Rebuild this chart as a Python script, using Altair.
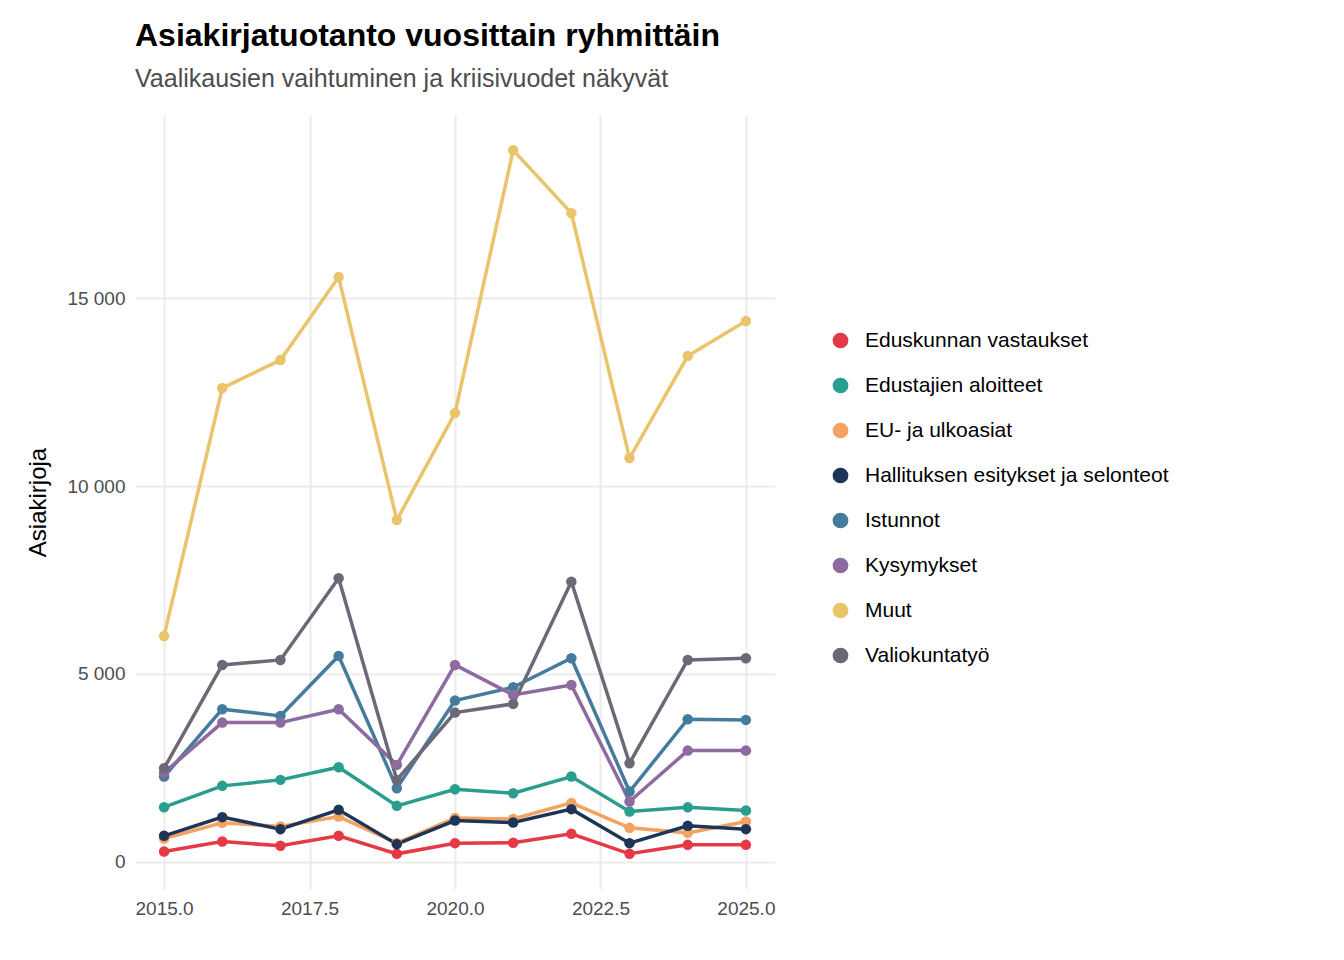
import altair as alt
import pandas as pd

years = list(range(2015, 2026))
series = {
    "Eduskunnan vastaukset": [274, 540, 426, 692, 213, 497, 510, 745, 213, 452, 452],
    "Edustajien aloitteet": [1454, 2022, 2181, 2519, 1490, 1933, 1827, 2269, 1338, 1450, 1365],
    "EU- ja ulkoasiat": [620, 1037, 940, 1205, 500, 1165, 1140, 1569, 904, 771, 1072],
    "Hallituksen esitykset ja selonteot": [692, 1189, 870, 1383, 471, 1099, 1045, 1402, 497, 958, 870],
    "Istunnot": [2269, 4062, 3884, 5480, 1960, 4291, 4647, 5418, 1870, 3796, 3777],
    "Kysymykset": [2375, 3705, 3705, 4062, 2580, 5240, 4442, 4708, 1604, 2960, 2960],
    "Muut": [6012, 12608, 13353, 15561, 9097, 11943, 18939, 17263, 10746, 13460, 14390],
    "Valiokuntatyö": [2492, 5240, 5373, 7546, 2181, 3971, 4203, 7456, 2625, 5373, 5418],
}
colors = ["#E63946", "#2A9D8F", "#F4A261", "#1D3557", "#457B9D", "#8D6A9F", "#E9C46A", "#6D6875"]

rows = []
for name, vals in series.items():
    for y, v in zip(years, vals):
        rows.append({"Vuosi": y, "Ryhmä": name, "Asiakirjoja": v})
df = pd.DataFrame(rows)

chart = alt.Chart(df).mark_line(strokeWidth=3.5, point=alt.OverlayMarkDef(size=110, filled=True, opacity=1)).encode(
    x=alt.X("Vuosi:Q", scale=alt.Scale(domain=[2014.5, 2025.5], nice=False, zero=False),
            axis=alt.Axis(values=[2015, 2017.5, 2020, 2022.5, 2025], format=".1f", title=None,
                          labelFontSize=19, labelColor="#4d4d4d", domain=False, ticks=False,
                          gridColor="#ebebeb", gridWidth=2, labelPadding=10)),
    y=alt.Y("Asiakirjoja:Q", scale=alt.Scale(domain=[-723, 19875], nice=False, zero=False),
            axis=alt.Axis(values=[0, 5000, 10000, 15000], title="Asiakirjoja",
                          labelExpr="replace(format(datum.value, ','), ',', ' ')",
                          labelFontSize=19, labelColor="#4d4d4d", titleFontSize=24, titleFontWeight="normal",
                          titleColor="black", domain=False, ticks=False, gridColor="#ebebeb", gridWidth=2,
                          labelPadding=10, titlePadding=16)),
    color=alt.Color("Ryhmä:N", scale=alt.Scale(domain=list(series.keys()), range=colors),
                    legend=alt.Legend(title=None, labelFontSize=21, labelColor="black", symbolSize=150,
                                      rowPadding=18, orient="none", legendX=695, legendY=215,
                                      labelLimit=500, symbolStrokeWidth=3.5, labelOffset=14)),
).properties(
    width=640, height=774,
    title=alt.TitleParams("Asiakirjatuotanto vuosittain ryhmittäin",
                          subtitle="Vaalikausien vaihtuminen ja kriisivuodet näkyvät",
                          anchor="start", frame="group", fontSize=32, fontWeight="bold", subtitleFontSize=25,
                          subtitleColor="#4d4d4d", subtitlePadding=14, offset=22, color="black"),
    padding={"left": 18, "top": 12, "right": 5, "bottom": 5},
).configure(font="Liberation Sans").configure_view(stroke=None)

chart.save("out.html", embed_options={"renderer": "svg", "actions": False})
